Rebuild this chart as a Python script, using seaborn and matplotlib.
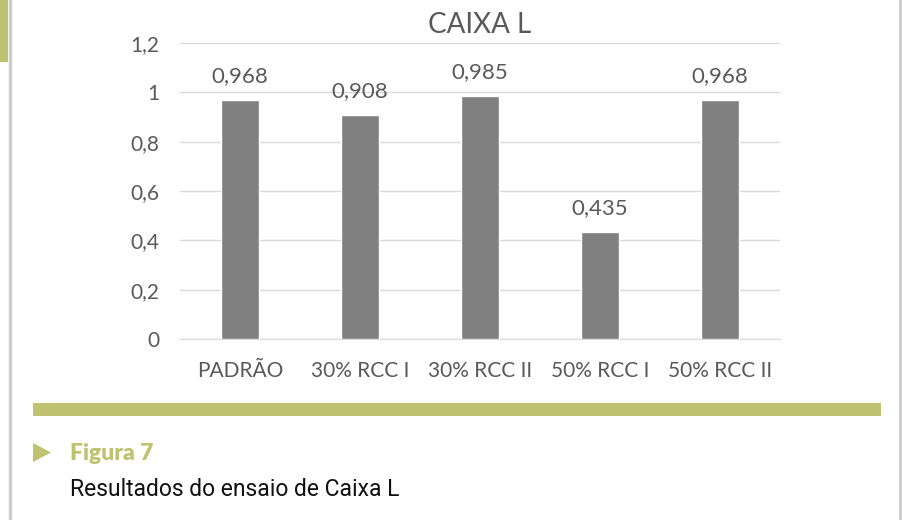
import matplotlib
matplotlib.use("Agg")
import matplotlib.pyplot as plt
import seaborn as sns
import pandas as pd
from matplotlib.patches import Rectangle, Polygon
from matplotlib.lines import Line2D

categories = ["PADRÃO", "30% RCC I", "30% RCC II", "50% RCC I", "50% RCC II"]
values = [0.968, 0.908, 0.985, 0.435, 0.968]
value_labels = ["0,968", "0,908", "0,985", "0,435", "0,968"]
yticks = [0, 0.2, 0.4, 0.6, 0.8, 1.0, 1.2]
ytick_labels = ["0", "0,2", "0,4", "0,6", "0,8", "1", "1,2"]
title = "CAIXA L"
fig_label = "Figura 7"
caption = "Resultados do ensaio de Caixa L"

sns.set_style("white")
plt.rcParams["font.family"] = ["Lato", "DejaVu Sans"]

TXT = "#595959"
GREEN = "#bfc271"

df = pd.DataFrame({"cat": categories, "val": values})

fig = plt.figure(figsize=(9.04, 5.2), dpi=100)
ax = fig.add_axes([180/904, 1-339/520, 600/904, 296/520])
sns.barplot(data=df, x="cat", y="val", color="#808080", saturation=1, width=0.32, ax=ax, zorder=3)
ax.set_ylim(0, 1.2)
ax.set_yticks(yticks)
ax.set_yticklabels(ytick_labels)
ax.set_xlim(-0.5, len(categories)-0.5)
ax.grid(axis="y", color="#d9d9d9", linewidth=1, zorder=0)
for s in ["top", "right", "left"]:
    ax.spines[s].set_visible(False)
ax.spines["bottom"].set_color("#d9d9d9")
ax.spines["bottom"].set_zorder(1)
ax.tick_params(axis="both", length=0, labelsize=15, colors=TXT)
ax.tick_params(axis="x", pad=16)
ax.tick_params(axis="y", pad=15)
ax.set_xlabel("")
ax.set_ylabel("")
for i, (v, lab) in enumerate(zip(values, value_labels)):
    ax.annotate(lab, (i, v), xytext=(0, 10), textcoords="offset points",
                ha="center", va="bottom", fontsize=16, color=TXT)
fig.text(480/904, 1-25/520, title, ha="center", va="center", fontsize=20, color=TXT)

# decorative frame
fig.add_artist(Line2D([9.5/904, 9.5/904], [0, 1], color="#cccccc", lw=2.5))
fig.add_artist(Line2D([900.5/904, 900.5/904], [0, 1], color="#cccccc", lw=2))
fig.add_artist(Rectangle((0, 1-62/520), 8/904, 62/520, color=GREEN, lw=0))
fig.add_artist(Rectangle((33/904, 1-416/520), 848/904, 13/520, color=GREEN, lw=0))
fig.add_artist(Polygon([(33/904, 1-443/520), (33/904, 1-462/520), (51/904, 1-452.5/520)],
                       closed=True, color=GREEN, lw=0))
fig.text(70/904, 1-453/520, fig_label, ha="left", va="center", fontsize=16.5,
         fontweight="heavy", color=GREEN, family=["Lato", "DejaVu Sans"])
fig.text(70/904, 1-489/520, caption, ha="left", va="center", fontsize=16.5,
         color="#111111", family=["Roboto", "DejaVu Sans"])

fig.savefig("out.png", dpi=100)
